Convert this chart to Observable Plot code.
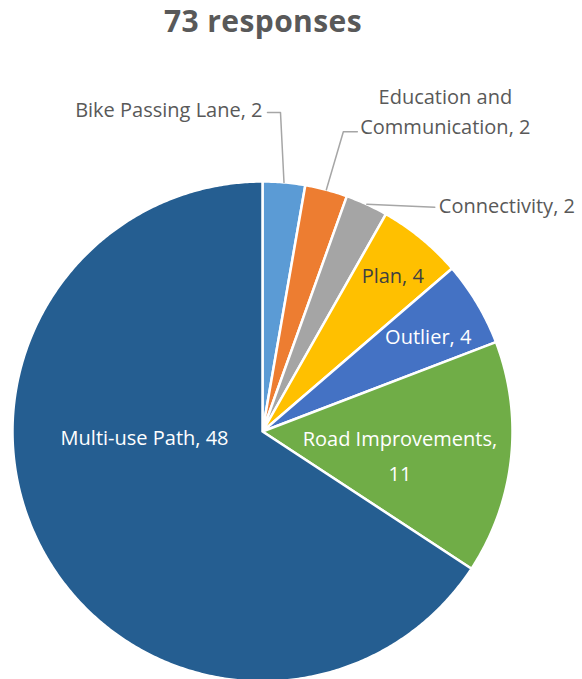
<!DOCTYPE html>
<html><head><meta charset="utf-8">
<script src="https://cdn.jsdelivr.net/npm/d3@7"></script>
<script src="https://cdn.jsdelivr.net/npm/@observablehq/plot@0.6"></script>
<style>
body{margin:0;background:#fff;}
#title{font-family:"Open Sans",sans-serif;font-weight:700;font-size:30px;letter-spacing:0.4px;color:#595959;text-align:center;height:50px;line-height:42px;width:526px;padding-right:56px;}
#chart svg{display:block;}
</style></head><body>
<div id="title"></div>
<div id="chart"></div>
<script>
// ---- data ----
const title = "73 responses";
const categories = ["Bike Passing Lane","Education and Communication","Connectivity","Plan","Outlier","Road Improvements","Multi-use Path"];
const values = [2,2,2,4,4,11,48];
const labelTexts = ["Bike Passing Lane, 2","Education and\nCommunication, 2","Connectivity, 2","Plan, 4","Outlier, 4","Road Improvements,\n11","Multi-use Path, 48"];
const colors = ["#5B9BD5","#ED7D31","#A5A5A5","#FFC000","#4472C4","#70AD47","#255E91"];

document.getElementById("title").textContent = title;

// ---- layout ----
const W = 582, H = 629;
const cx = 262, cy = 381, R = 250;
const fontSize = 20;
// inside labels: radius and angular tweak (deg); outside labels: leader offsets
const inside = {
  "Plan": {r: 205, da: 0, fill: "#404040", lh: 1.5},
  "Outlier": {r: 192, da: 0.5, fill: "#ffffff", lh: 1.5},
  "Road Improvements": {r: 139, da: 2.5, fill: "#ffffff", lh: 1.75},
  "Multi-use Path": {r: 118, da: 26.5, fill: "#ffffff", lh: 1.5}
};
const outside = {
  "Bike Passing Lane": {elbow: [-3.5, -70], end: [-13, 0], text: [-5, -5], anchor: "end", lh: 1.5},
  "Education and Communication": {elbow: [17, -58], end: [14, 0], text: [88, -22], anchor: "middle", lh: 1.5},
  "Connectivity": {elbow: [0, 0], end: [68, 3], text: [4, -4], anchor: "start", lh: 1.5}
};

const data = categories.map((c, i) => ({name: c, value: values[i], color: colors[i], label: labelTexts[i]}));
const arcs = d3.pie().sort(null).value(d => d.value).startAngle(0).endAngle(2 * Math.PI)(data);

const polar = (r, a) => [cx + r * Math.sin(a), cy - r * Math.cos(a)];

const slicePts = [];
arcs.forEach(a => {
  const n = Math.max(4, Math.ceil((a.endAngle - a.startAngle) / (Math.PI / 360)));
  slicePts.push({name: a.data.name, color: a.data.color, x: cx, y: cy});
  for (let i = 0; i <= n; i++) {
    const [x, y] = polar(R, a.startAngle + (a.endAngle - a.startAngle) * i / n);
    slicePts.push({name: a.data.name, color: a.data.color, x, y});
  }
  slicePts.push({name: a.data.name, color: a.data.color, x: cx, y: cy});
});

const insideLabels = [], leaderPts = [], outsideLabels = [];
arcs.forEach(a => {
  const mid = (a.startAngle + a.endAngle) / 2;
  const nm = a.data.name;
  if (inside[nm]) {
    const L = inside[nm];
    const [x, y] = polar(L.r, mid + L.da * Math.PI / 180);
    insideLabels.push({text: a.data.label, x, y, fill: L.fill, lh: L.lh});
  } else if (outside[nm]) {
    const L = outside[nm];
    const [ax, ay] = polar(R, mid);
    const ex = ax + L.elbow[0], ey = ay + L.elbow[1];
    const fx = ex + L.end[0], fy = ey + L.end[1];
    leaderPts.push({name: nm, x: ax, y: ay}, {name: nm, x: ex, y: ey}, {name: nm, x: fx, y: fy});
    outsideLabels.push({text: a.data.label, x: fx + L.text[0], y: fy + L.text[1], anchor: L.anchor, lh: L.lh});
  }
});

const chart = Plot.plot({
  width: W, height: H,
  margin: 0,
  x: {domain: [0, W], range: [0, W], axis: null},
  y: {domain: [0, H], range: [0, H], axis: null},
  color: {type: "identity"},
  style: {fontFamily: "'Open Sans', sans-serif", background: "#fff"},
  marks: [
    Plot.line(slicePts, {x: "x", y: "y", z: "name", fill: "color", stroke: "#ffffff", strokeWidth: 2.5, strokeLinejoin: "round"}),
    Plot.line(leaderPts, {x: "x", y: "y", z: "name", stroke: "#A6A6A6", strokeWidth: 1.5}),
    ...outsideLabels.map(d => Plot.text([d], {
      x: "x", y: "y", text: "text", textAnchor: d.anchor, fill: "#595959", fontSize, lineHeight: d.lh
    })),
    ...insideLabels.map(d => Plot.text([d], {
      x: "x", y: "y", text: "text", fill: "fill", fontSize, lineHeight: d.lh, textAnchor: "middle"
    }))
  ]
});
document.getElementById("chart").appendChild(chart);
</script>
</body></html>
